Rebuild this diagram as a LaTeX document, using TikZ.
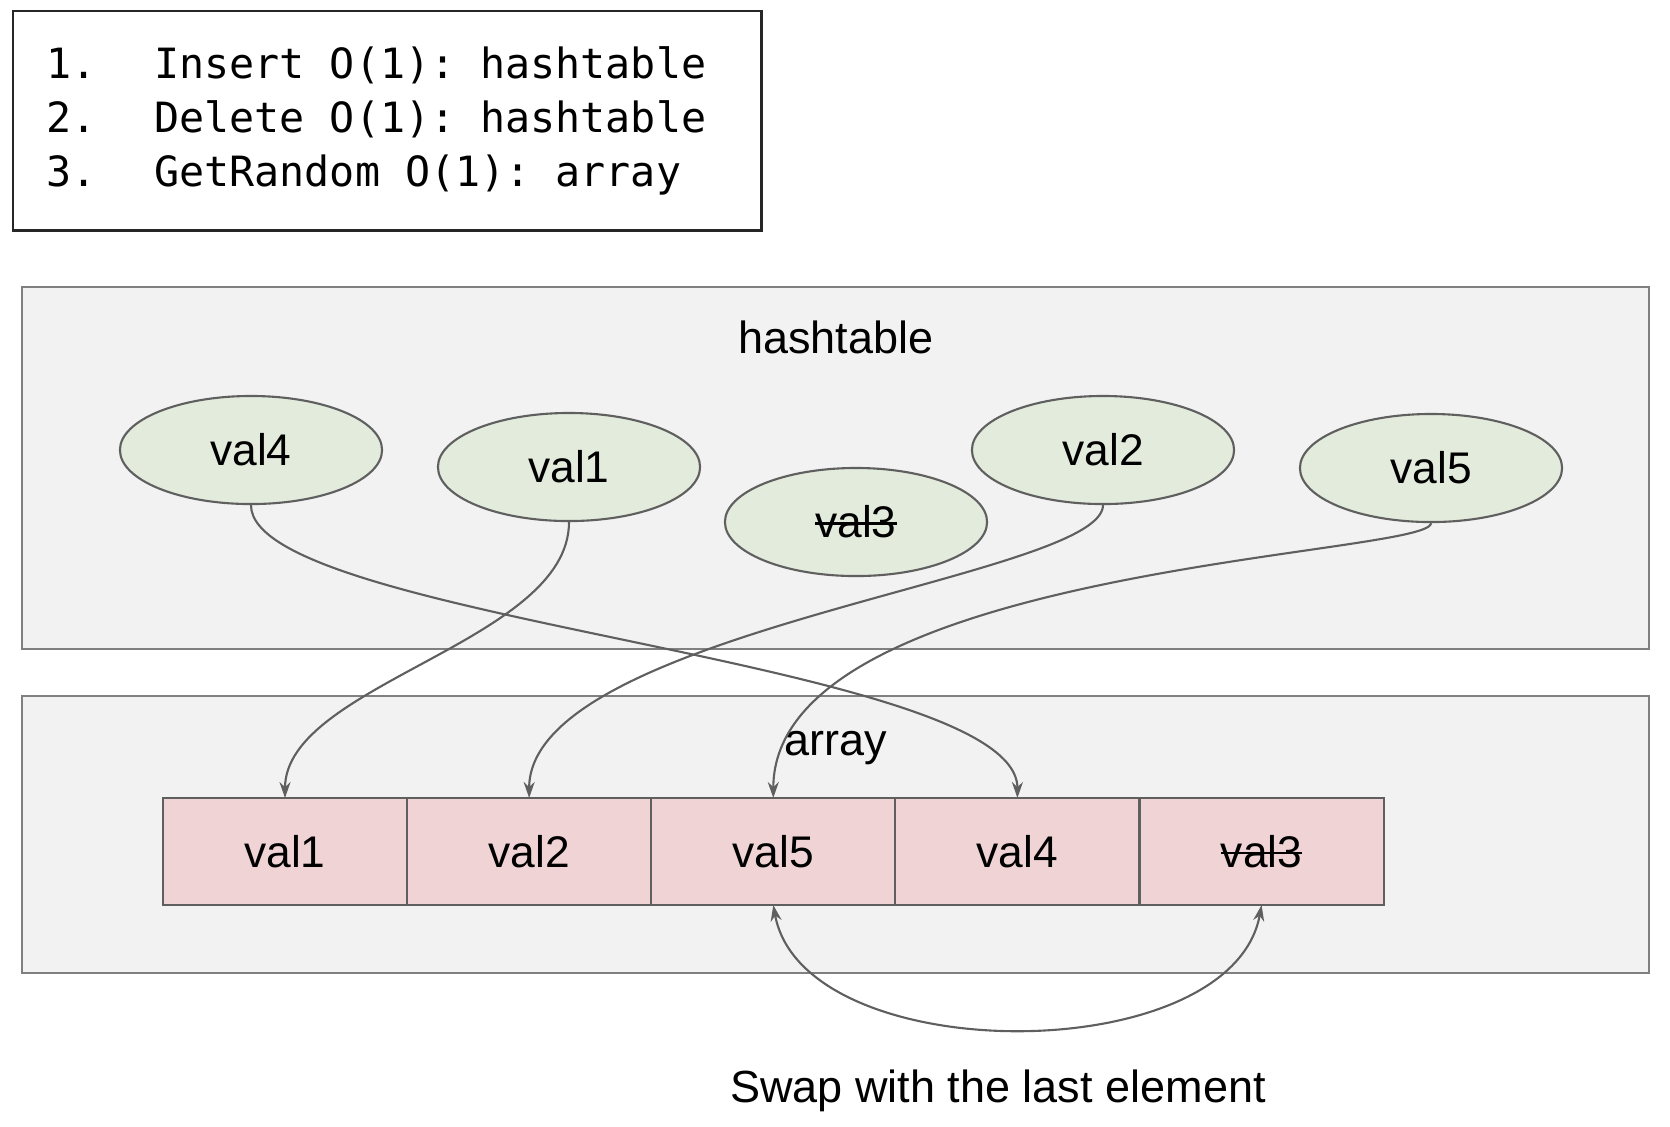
\documentclass[tikz,border=0pt]{standalone}
\usepackage{fontspec}
\setmainfont{Liberation Sans}
\setmonofont{DejaVu Sans Mono}
\newcommand{\crossout}[1]{\setbox0\hbox{#1}\rlap{\rule[0.3em]{\wd0}{0.6pt}}\box0}
\newcommand{\tsp}{\hphantom{x}}
\usetikzlibrary{positioning,shapes.geometric,arrows.meta}
\definecolor{framefill}{HTML}{F2F2F3}
\definecolor{framedraw}{HTML}{808080}
\definecolor{valgreen}{HTML}{E2EBDC}
\definecolor{cellred}{HTML}{F0D4D5}
\definecolor{linegray}{HTML}{5F5F5F}

\begin{document}
\begin{tikzpicture}[x=0.01cm,y=-0.01cm,
    opsbox/.style={draw=black!85,line width=0.7pt,anchor=north west,align=left,
        text width=6.82cm,inner xsep=0.33cm,minimum height=2.19cm,
        font=\ttfamily\fontsize{11.85}{15.3}\selectfont},
    frame/.style={draw=framedraw,fill=framefill,line width=0.6pt,anchor=north west,
        minimum width=16.26cm,inner sep=0pt},
    hval/.style={ellipse,draw=linegray,fill=valgreen,line width=0.6pt,
        minimum width=2.62cm,minimum height=1.08cm,inner sep=0pt,
        font=\fontsize{12.6}{15}\selectfont},
    cell/.style={rectangle,draw=linegray,fill=cellred,line width=0.6pt,outer sep=0pt,
        minimum width=2.44cm,minimum height=1.07cm,inner sep=0pt,
        font=\fontsize{12.6}{15}\selectfont},
    caption/.style={font=\fontsize{12.8}{15}\selectfont},
    link/.style={draw=linegray,line width=0.6pt,-{Stealth[length=0.16cm,width=0.11cm]}},
    swaplink/.style={draw=linegray,line width=0.6pt,
        {Stealth[length=0.16cm,width=0.11cm]}-{Stealth[length=0.16cm,width=0.11cm]}}]
  \useasboundingbox (0,0) rectangle (1670,1126);
  % operations
  \node[opsbox] (ops) at (12,10) {\makebox[1.08cm][l]{1.}Insert\tsp O(1):\tsp hashtable\\
    \makebox[1.08cm][l]{2.}Delete\tsp O(1):\tsp hashtable\\
    \makebox[1.08cm][l]{3.}GetRandom\tsp O(1):\tsp array};
  % frames
  \node[frame,minimum height=3.62cm] (hashframe) at (21,286) {};
  \node[frame,minimum height=2.77cm] (arrayframe) at (21,695) {};
  \node[caption] (hashlabel) at (836,337) {hashtable};
  \node[caption] (arraylabel) at (836,748) {array};
  % hashtable entries
  \node[hval] (h4) at (251,450) {val4};
  \node[hval] (h1) at (569,467) {val1};
  \node[hval] (h3) at (856,522) {\crossout{val3}};
  \node[hval] (h2) at (1103,450) {val2};
  \node[hval] (h5) at (1431,468) {val5};
  % array cells
  \node[cell] (a1) at (285,851.5) {val1};
  \node[cell,right=0pt of a1] (a2) {val2};
  \node[cell,right=0pt of a2] (a3) {val5};
  \node[cell,right=0pt of a3] (a4) {val4};
  \node[cell,right=0pt of a4] (a5) {\crossout{val3}};
  % links
  \draw[link] (h4.south) .. controls +(0,116) and +(0,-138) .. (a4.north);
  \draw[link] (h1.south) .. controls +(0,120) and +(0,-114) .. (a1.north);
  \draw[link] (h2.south) .. controls +(0,73) and +(0,-168) .. (a2.north);
  \draw[link] (h5.south) .. controls +(0,33) and +(0,-232) .. (a3.north);
  \draw[swaplink] (a3.south) .. controls +(30,165) and +(-30,165) .. (a5.south);
  \node[caption] (swaplabel) at (998,1091) {Swap with the last element};
\end{tikzpicture}
\end{document}
